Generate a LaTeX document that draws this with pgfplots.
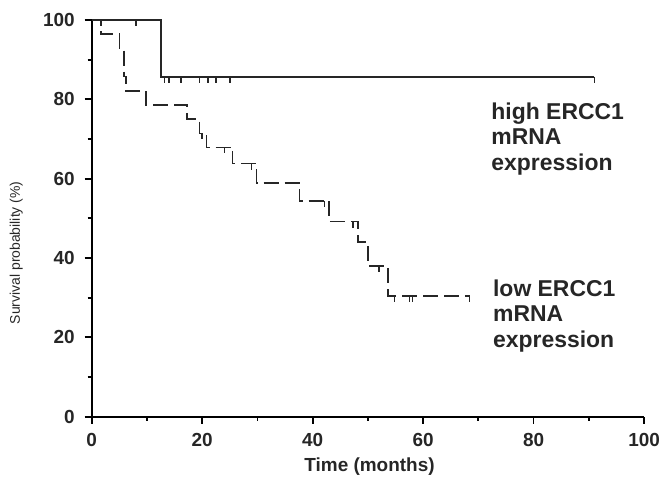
\documentclass[border=0pt]{standalone}
\usepackage{pgfplots}
\pgfplotsset{compat=1.18}
\usepackage{fontspec}
\setmainfont{Liberation Sans}

% censored observation: short tick hanging below the curve
\pgfdeclareplotmark{cens}{%
  \pgfpathmoveto{\pgfpoint{0pt}{0pt}}%
  \pgfpathlineto{\pgfpoint{0pt}{-3pt}}%
  \pgfusepathqstroke}

\begin{document}
\begin{tikzpicture}
\begin{axis}[
    scale only axis,
    width=277pt,
    height=199pt,
    xmin=0, xmax=100,
    ymin=0, ymax=100,
    axis lines=left,
    axis line style={-, line width=1pt},
    every tick/.style={black, line width=0.9pt},
    tick align=outside,
    major tick length=3.5pt,
    minor tick length=2pt,
    xtick={0,20,...,100},
    ytick={0,20,...,100},
    minor tick num=1,
    /pgf/number format/assume math mode=true,
    ticklabel style={font=\bfseries\fontsize{9.5}{10}\selectfont, text=black!85},
    xticklabel style={inner xsep=0pt, yshift=-1.5pt},
    yticklabel style={xshift=-1.5pt},
    xlabel={Time (months)},
    ylabel={Survival probability (\%)},
    xlabel style={font=\bfseries\fontsize{9.5}{10}\selectfont, text=black!85,
                  at={(axis description cs:0.503,-0.126)}, anchor=center},
    ylabel style={font=\fontsize{7}{8}\selectfont, text=black!85,
                  at={(axis description cs:-0.112,0.413)}, anchor=south},
    clip=false,
]
% high ERCC1 mRNA expression
\addplot[const plot, black!85, line width=1pt] coordinates {
(0,100) (12.6,85.7) (91,85.7)
};
\addplot[only marks, mark=cens, black!85, mark options={line width=0.8pt}] coordinates {
(8.0,100) (13.2,85.7) (14.0,85.7) (16.2,85.7) (19.5,85.7) (21.0,85.7) (22.5,85.7) (25.0,85.7) (91,85.7)
};
% low ERCC1 mRNA expression
\addplot[const plot, black!85, line width=0.8pt, dash pattern=on 7.5pt off 3pt] coordinates {
(0,100) (1.7,96.4) (5.0,92.9) (5.8,85.7) (6.2,82.1) (9.8,78.6) (17.3,75.0)
(19.5,71.4) (20.8,67.9) (25.5,63.8) (29.8,58.9) (37.6,54.4) (43.0,49.2)
(48.2,44.0) (50.0,38.0) (53.6,30.5) (68.4,30.5)
};
\addplot[only marks, mark=cens, black!85, mark options={line width=0.7pt}] coordinates {
(20.0,71.4) (24.0,67.9) (28.9,63.8) (42.1,54.4) (47.3,49.2) (52.0,38.0)
(54.8,30.5) (57.5,30.5) (58.1,30.5) (68.4,30.5)
};
\node[anchor=north west, align=left, inner sep=0pt,
      font=\bfseries\fontsize{11.5}{12.8}\selectfont, text=black!85]
  at (axis cs:72.3,79.3) {high ERCC1\\mRNA\\expression};
\node[anchor=north west, align=left, inner sep=0pt,
      font=\bfseries\fontsize{11.5}{12.8}\selectfont, text=black!85]
  at (axis cs:72.6,34.6) {low ERCC1\\mRNA\\expression};
% page margins as in the reference
\path (rel axis cs:0,1) ++(0,10pt);
\path (rel axis cs:0,0) ++(-46pt,-35pt);
\path (rel axis cs:1,0) ++(8pt,0);
\end{axis}
\end{tikzpicture}
\end{document}
